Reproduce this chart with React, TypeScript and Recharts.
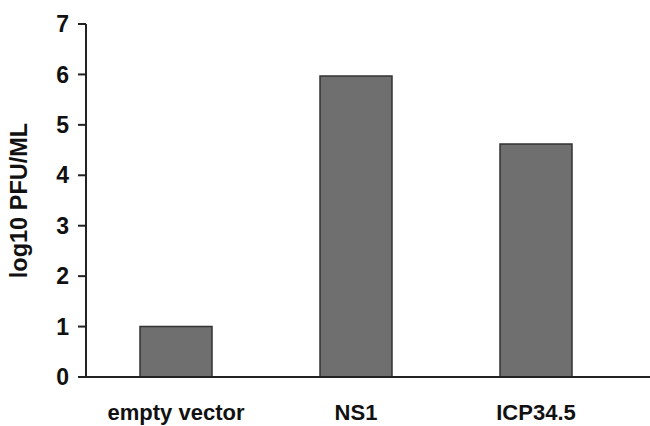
import { BarChart, Bar, XAxis, YAxis } from 'recharts';

const categories = ['empty vector', 'NS1', 'ICP34.5'];
const pfuValues = [1.0, 5.97, 4.62];
const yTicks = [0, 1, 2, 3, 4, 5, 6, 7];

const data = categories.map((name, i) => ({ name, value: pfuValues[i] }));

const font = '"Liberation Sans", Arial, sans-serif';

function YLabel(props: any) {
  const { viewBox } = props;
  const cx = 19;
  const cy = viewBox.y + viewBox.height / 2;
  return (
    <text
      x={cx}
      y={cy}
      transform={`rotate(-90, ${cx}, ${cy})`}
      textAnchor="middle"
      dominantBaseline="central"
      fontFamily={font}
      fontWeight="bold"
      fontSize={23.5}
      fill="#111"
    >
      log10 PFU/ML
    </text>
  );
}

export default function App() {
  return (
    <div style={{ position: 'absolute', left: 0, top: 0, background: '#fff' }}>
      <BarChart
        width={650}
        height={426}
        data={data}
        margin={{ top: 24, right: 0, bottom: 0, left: 0 }}
        barSize={72}
      >
        <XAxis
          dataKey="name"
          height={49}
          padding={{ left: 0, right: 24 }}
          tickLine={false}
          tickSize={0}
          tickMargin={27}
          stroke="#222"
          strokeWidth={2}
          tick={{ fontFamily: font, fontWeight: 'bold', fontSize: 22, fill: '#111' }}
        />
        <YAxis
          width={86}
          domain={[0, 7]}
          ticks={yTicks}
          tickSize={8}
          tickMargin={9}
          stroke="#222"
          strokeWidth={2}
          tick={{ fontFamily: font, fontWeight: 'bold', fontSize: 23, fill: '#111' }}
          label={<YLabel />}
        />
        <Bar dataKey="value" fill="#6f6f6f" stroke="#333" strokeWidth={1.5} isAnimationActive={false} />
      </BarChart>
    </div>
  );
}
